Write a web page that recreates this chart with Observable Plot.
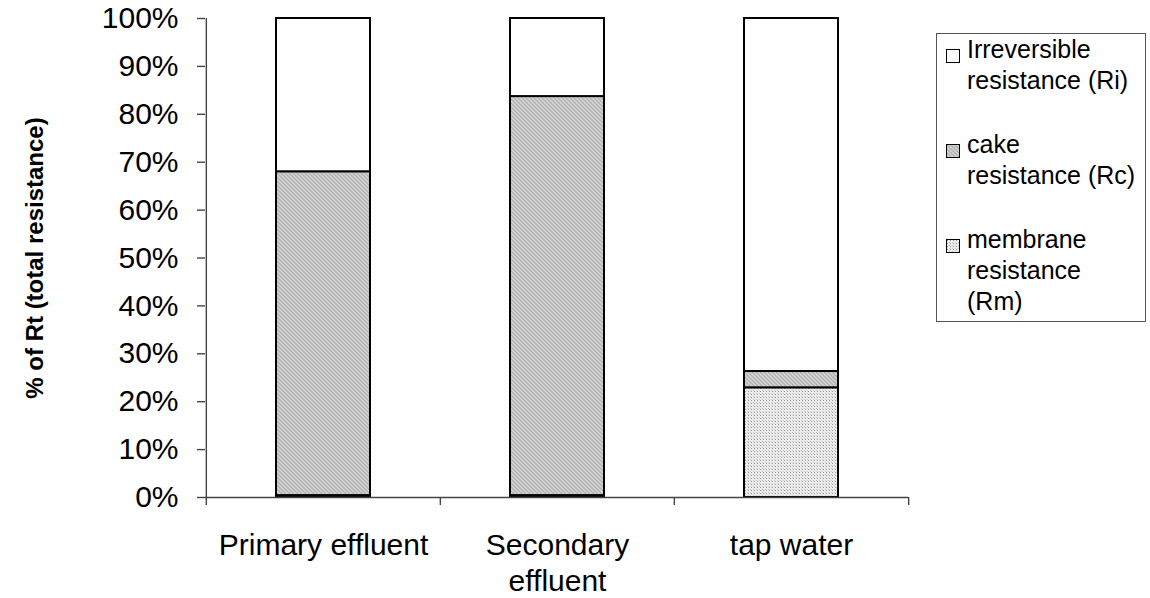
<!DOCTYPE html>
<html>
<head>
<meta charset="utf-8">
<script src="https://cdn.jsdelivr.net/npm/d3@7"></script>
<script src="https://cdn.jsdelivr.net/npm/@observablehq/plot@0.6"></script>
<style>
  body { margin: 0; background: #fff; }
  #wrap { position: relative; width: 1150px; height: 598px; font-family: "Liberation Sans", Arial, sans-serif; }
  #legend {
    position: absolute; left: 936px; top: 33px; width: 210px; height: 289px;
    box-sizing: border-box; border: 1px solid #555; background: #fff;
    padding: 0 0 0 9px; font-size: 25px; line-height: 31px; color: #000;
  }
  .item { display: flex; align-items: flex-start; margin-bottom: 33px; }
  .sw { flex: none; margin: 15px 7px 0 0; overflow: visible; }
</style>
</head>
<body>
<div id="wrap">
  <div id="chart"></div>
  <div id="legend"></div>
</div>
<script>
// Share of total resistance (%) for each feed water
const categories = ["Primary effluent", "Secondary\neffluent", "tap water"];
const series = ["membrane resistance (Rm)", "cake resistance (Rc)", "Irreversible resistance (Ri)"];
const membrane = [0.4, 0.4, 22.9];
const cake = [67.6, 83.3, 3.4];
const irreversible = [32.0, 16.3, 73.7];
const yTicks = [0, 10, 20, 30, 40, 50, 60, 70, 80, 90, 100];

// Legend entries, top to bottom
const legendLabels = ["Irreversible\nresistance (Ri)", "cake\nresistance (Rc)", "membrane\nresistance\n(Rm)"];

const valuesBySeries = [membrane, cake, irreversible];
const rows = [];
series.forEach((s, si) => categories.forEach((c, ci) => rows.push({category: c, series: s, value: valuesBySeries[si][ci]})));

const fills = ["url(#memPat)", "url(#cakePat)", "#fff"];

const W = 1150, H = 598, ML = 205, MR = 242, MT = 18, MB = 101;
const padIn = 0.6, padOut = 0.3;
const step = (W - ML - MR) / (categories.length - padIn + 2 * padOut);
const axisStroke = {stroke: "#444", strokeWidth: 1.4};

const plot = Plot.plot({
  width: W, height: H,
  marginLeft: ML, marginRight: MR, marginTop: MT, marginBottom: MB,
  style: {fontFamily: "'Liberation Sans', Arial, sans-serif", color: "#000", background: "#fff"},
  x: {domain: categories, paddingInner: padIn, paddingOuter: padOut, label: null},
  y: {domain: [0, 100], label: null},
  color: {domain: series, range: fills},
  marks: [
    Plot.barY(rows, {x: "category", y: "value", fill: "series", stroke: "#000", strokeWidth: 2}),
    Plot.axisY({ticks: yTicks, tickFormat: d => d + "%", tickSize: 8, tickPadding: 19, fontSize: 30, ...axisStroke, label: null}),
    Plot.axisX({tickSize: 0, tickPadding: 32, fontSize: 30, lineHeight: 1.2, label: null}),
    // value axis line along the left edge of the first category band
    Plot.ruleX(categories.slice(0, 1), {x: d => d, dx: -step / 2, y1: 0, y2: 100, ...axisStroke}),
    // category axis line
    Plot.ruleY([0], axisStroke),
    // boundary ticks between categories
    Plot.ruleX(categories, {x: d => d, dx: -step / 2, y1: 0, y2: 0, insetBottom: -8, ...axisStroke}),
    Plot.ruleX(categories.slice(-1), {x: d => d, dx: step / 2, y1: 0, y2: 0, insetBottom: -8, ...axisStroke}),
    Plot.text(["% of Rt (total resistance)"], {frameAnchor: "left", textAnchor: "middle", rotate: -90, dx: -170, fontSize: 24, fontWeight: "bold", fill: "#000"})
  ]
});

// Fill textures for the cake and membrane segments
const defs = d3.select(plot).insert("defs", ":first-child");
const cakePat = defs.append("pattern").attr("id", "cakePat").attr("patternUnits", "userSpaceOnUse").attr("width", 4).attr("height", 4);
cakePat.append("rect").attr("width", 4).attr("height", 4).attr("fill", "#c4c4c4");
[[0,0],[1,1],[2,2],[3,3]].forEach(([x, y]) => cakePat.append("rect").attr("x", x).attr("y", y).attr("width", 1).attr("height", 1).attr("fill", "#b0b0b0"));
[[2,0],[3,1],[0,2],[1,3]].forEach(([x, y]) => cakePat.append("rect").attr("x", x).attr("y", y).attr("width", 1).attr("height", 1).attr("fill", "#d6d6d6"));
const memPat = defs.append("pattern").attr("id", "memPat").attr("patternUnits", "userSpaceOnUse").attr("width", 3).attr("height", 3);
memPat.append("rect").attr("width", 3).attr("height", 3).attr("fill", "#ececec");
memPat.append("rect").attr("x", 1).attr("y", 1).attr("width", 1).attr("height", 1).attr("fill", "#9a9a9a");
memPat.append("rect").attr("x", 0).attr("y", 0).attr("width", 1).attr("height", 1).attr("fill", "#c8c8c8");

document.getElementById("chart").appendChild(plot);

// Legend box
const legendFills = ["#fff", "url(#cakePat)", "url(#memPat)"];
const legend = d3.select("#legend");
legendLabels.forEach((lab, i) => {
  const item = legend.append("div").attr("class", "item");
  const sw = item.append("svg").attr("class", "sw").attr("width", 14).attr("height", 14);
  sw.append("rect").attr("x", 0.5).attr("y", 0.5).attr("width", 13).attr("height", 13).attr("stroke", "#000").attr("fill", legendFills[i]);
  item.append("div").style("white-space", "pre").text(lab);
});
</script>
</body>
</html>
